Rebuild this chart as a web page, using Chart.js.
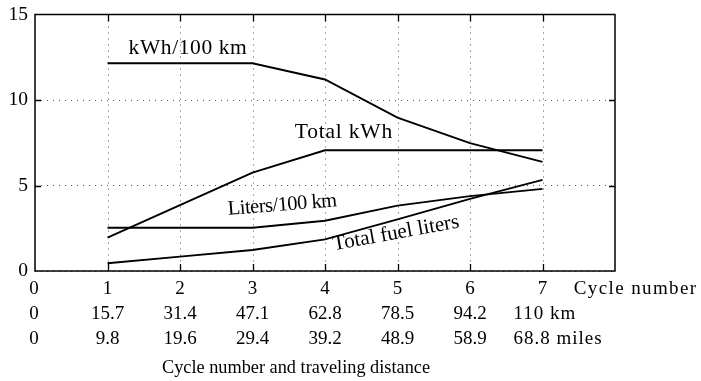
<!DOCTYPE html>
<html>
<head>
<meta charset="utf-8">
<script src="https://cdn.jsdelivr.net/npm/chart.js@4/dist/chart.umd.min.js"></script>
<style>
  html, body { margin: 0; padding: 0; background: #fff; }
  #c { display: block; }
</style>
</head>
<body>
<canvas id="c" width="701" height="381"></canvas>
<script>
// ---- data ----
const cycles = [1, 2, 3, 4, 5, 6, 7];
const kwhPer100km = [12.15, 12.15, 12.15, 11.2, 8.97, 7.48, 6.38];
const totalKwh = [1.95, 3.85, 5.75, 7.06, 7.06, 7.06, 7.06];
const litersPer100km = [2.53, 2.53, 2.53, 2.94, 3.82, 4.38, 4.8];
const totalFuelLiters = [0.45, 0.84, 1.23, 1.85, 3.02, 4.22, 5.33];

const tickValues = [0, 1, 2, 3, 4, 5, 6, 7];
const cycleLabels = ['0', '1', '2', '3', '4', '5', '6', '7'];
const kmLabels = ['0', '15.7', '31.4', '47.1', '62.8', '78.5', '94.2', '110 km'];
const milesLabels = ['0', '9.8', '19.6', '29.4', '39.2', '48.9', '58.9', '68.8 miles'];
const rowEndLabel = 'Cycle number';
const xTitle = 'Cycle number and traveling distance';

const seriesNames = ['kWh/100 km', 'Total kWh', 'Liters/100 km', 'Total fuel liters'];

// label placement (data units), rotation and type size
const labelPlacement = [
  { x: 2.11, y: 13.0, rot: 0, size: 21.5, spacing: 0.6 },
  { x: 4.26, y: 8.1, rot: 0, size: 21.5, spacing: 0.8 },
  { x: 3.41, y: 3.85, rot: -4.5, size: 20.5, spacing: -0.5 },
  { x: 4.98, y: 2.2, rot: -10.3, size: 21, spacing: 0 }
];

const FONT = '"Liberation Serif", "Times New Roman", serif';
const GRID = '#555';

function pts(vals) { return cycles.map((c, i) => ({ x: c, y: vals[i] })); }

const series = [kwhPer100km, totalKwh, litersPer100km, totalFuelLiters];

const decor = {
  id: 'decor',
  beforeDatasetsDraw(chart) {
    const ctx = chart.ctx;
    const a = chart.chartArea;
    const xs = chart.scales.x;
    ctx.save();
    ctx.strokeStyle = GRID;
    ctx.lineWidth = 1;
    ctx.setLineDash([1, 5]);
    ctx.beginPath();
    for (let v = 1; v <= 7; v++) {
      const px = Math.round(xs.getPixelForValue(v)) + 0.5;
      ctx.moveTo(px, a.top); ctx.lineTo(px, a.bottom);
    }
    ctx.stroke();
    ctx.restore();
  },
  afterDatasetsDraw(chart) {
    const ctx = chart.ctx;
    const a = chart.chartArea;
    const xs = chart.scales.x, ys = chart.scales.y;
    ctx.save();
    // frame
    ctx.strokeStyle = '#000';
    ctx.lineWidth = 1.5;
    ctx.strokeRect(a.left, a.top, a.right - a.left, a.bottom - a.top);
    // inward ticks
    ctx.lineWidth = 1.3;
    ctx.beginPath();
    for (let v = 1; v <= 7; v++) {
      const px = Math.round(xs.getPixelForValue(v)) + 0.5;
      ctx.moveTo(px, a.bottom); ctx.lineTo(px, a.bottom - 7);
      ctx.moveTo(px, a.top); ctx.lineTo(px, a.top + 7);
    }
    [5, 10].forEach(v => {
      const py = Math.round(ys.getPixelForValue(v)) + 0.5;
      ctx.moveTo(a.left, py); ctx.lineTo(a.left + 6, py);
      ctx.moveTo(a.right, py); ctx.lineTo(a.right - 6, py);
    });
    ctx.stroke();

    // series labels
    ctx.fillStyle = '#000';
    ctx.textAlign = 'center';
    ctx.textBaseline = 'middle';
    seriesNames.forEach((name, i) => {
      const p = labelPlacement[i];
      ctx.save();
      ctx.font = p.size + 'px ' + FONT;
      ctx.letterSpacing = p.spacing + 'px';
      ctx.translate(xs.getPixelForValue(p.x), ys.getPixelForValue(p.y));
      ctx.rotate(p.rot * Math.PI / 180);
      ctx.fillText(name, 0, 0);
      ctx.restore();
    });

    // bottom tick rows
    ctx.font = '19px ' + FONT;
    const rows = [cycleLabels, kmLabels, milesLabels];
    const rowY = [a.bottom + 18, a.bottom + 43, a.bottom + 68];
    rows.forEach((labels, r) => {
      tickValues.forEach((v, i) => {
        let px = xs.getPixelForValue(v);
        const txt = labels[i];
        if (v === 0) px -= 1;
        if (v === 7 && r > 0) {
          ctx.letterSpacing = '1px';
          ctx.textAlign = 'left';
          ctx.fillText(txt, px - 29, rowY[r]);
          ctx.textAlign = 'center';
        } else {
          ctx.letterSpacing = '0px';
          ctx.fillText(txt, px, rowY[r]);
        }
      });
    });
    ctx.letterSpacing = '1.4px';
    ctx.textAlign = 'left';
    ctx.fillText(rowEndLabel, xs.getPixelForValue(7.43), rowY[0]);
    ctx.letterSpacing = '0px';
    ctx.font = '18.3px ' + FONT;
    ctx.textAlign = 'center';
    ctx.fillText(xTitle, xs.getPixelForValue(3.6), a.bottom + 97);
    ctx.restore();
  }
};

new Chart(document.getElementById('c'), {
  type: 'line',
  data: {
    datasets: series.map((vals, i) => ({
      label: seriesNames[i],
      data: pts(vals),
      borderColor: '#000',
      borderWidth: 1.9,
      pointRadius: 0,
      tension: 0,
      fill: false
    }))
  },
  options: {
    responsive: false,
    animation: false,
    layout: { padding: { top: 14.5, right: 86, left: 0, bottom: 0 } },
    plugins: { legend: { display: false }, tooltip: { enabled: false } },
    scales: {
      x: {
        type: 'linear', min: 0, max: 8,
        ticks: { stepSize: 1, display: false },
        grid: { display: false },
        border: { display: false },
        afterFit(s) { s.height = 110; s.paddingLeft = 0; s.paddingRight = 0; }
      },
      y: {
        min: 0, max: 15,
        ticks: { stepSize: 5, color: '#000', padding: 7, font: { family: FONT, size: 19.5 } },
        grid: { color: GRID, lineWidth: 1, drawTicks: false },
        border: { display: false, dash: [1, 5] },
        afterFit(s) { s.width = 35; s.paddingTop = 0; s.paddingBottom = 0; }
      }
    }
  },
  plugins: [decor]
});
</script>
</body>
</html>
